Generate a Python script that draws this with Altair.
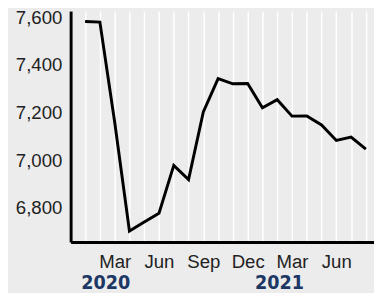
import altair as alt
import pandas as pd

# month index 0 = Jan 2020 ... 19 = Aug 2021
month_index = list(range(20))
values = [7583, 7580, 7160, 6702, 6740, 6777, 6978, 6918, 7203, 7343,
          7321, 7322, 7220, 7254, 7185, 7186, 7148, 7083, 7097, 7046]
tick_labels = {2: "Mar", 5: "Jun", 8: "Sep", 11: "Dec", 14: "Mar", 17: "Jun"}
y_ticks = [6800, 7000, 7200, 7400, 7600]
years = ["2020", "2021"]
year_pos = [1.4, 13.15]

df = pd.DataFrame({"m": month_index, "v": values})
ydf = pd.DataFrame({"year": years, "pos": year_pos})

label_expr = "".join(f"datum.value == {k} ? '{v}' : " for k, v in tick_labels.items()) + "''"

x_scale = alt.Scale(domain=[-0.98, 19.55], nice=False, zero=False)
y_scale = alt.Scale(domain=[6655.9, 7626.7], nice=False, zero=False)

x_axis = alt.Axis(
    values=month_index, grid=True, gridColor="white", gridWidth=1.5,
    ticks=False, domainColor="black", domainWidth=3, labelExpr=label_expr,
    labelFontSize=19, labelColor="#222222", labelFont="Liberation Sans",
    labelPadding=11, labelFlush=False, labelOverlap=False, title=None)

line = alt.Chart(df).mark_line(color="black", strokeWidth=3).encode(
    x=alt.X("m:Q", scale=x_scale, axis=x_axis),
    y=alt.Y("v:Q", scale=y_scale, axis=alt.Axis(
        values=y_ticks, format=",d", grid=False, ticks=False,
        domainColor="black", domainWidth=3, labelFontSize=19,
        labelColor="#222222", labelFont="Liberation Sans", labelPadding=9,
        title=None)),
)

year_text = alt.Chart(ydf).mark_text(
    font="DejaVu Sans Condensed, Liberation Sans Narrow, sans-serif",
    fontWeight="bold", fontSize=20, color="#1c3764", baseline="middle"
).encode(
    x=alt.X("pos:Q", scale=x_scale, axis=x_axis),
    y=alt.value(278),
    text="year:N",
)

chart = alt.layer(line, year_text).properties(
    width=310, height=236,
    background="#ececec",
    autosize=alt.AutoSizeParams(type="none"),
    padding={"left": 64, "top": 0, "right": 0, "bottom": 49},
).configure_view(stroke=None)

chart.save("out.html", embed_options={"renderer": "svg", "actions": False})
